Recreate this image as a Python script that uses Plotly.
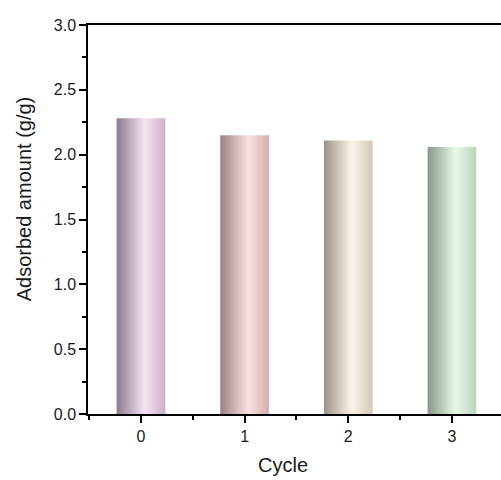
import plotly.graph_objects as go

cycles = [0, 1, 2, 3]
values = [2.28, 2.15, 2.11, 2.06]
dark_colors = ["#8c798c", "#9c8282", "#9a9386", "#869889"]
light_colors = ["#f2dff0", "#f7dede", "#f7f0e3", "#e5f4e3"]
edge_colors = ["#ccafc9", "#d3adae", "#d3c8b5", "#bcd3bb"]
bar_width = 0.47

fig = go.Figure()
for c, v, dk, lt, ed in zip(cycles, values, dark_colors, light_colors, edge_colors):
    x0, x1 = c - bar_width / 2, c + bar_width / 2
    fig.add_trace(go.Scatter(
        x=[x0, x0, x1, x1, x0],
        y=[0, v, v, 0, 0],
        mode="lines",
        fill="toself",
        line=dict(width=0),
        fillgradient=dict(type="horizontal",
                          colorscale=[[0, dk], [0.55, lt], [0.62, lt], [1, ed]]),
        showlegend=False,
        hoverinfo="skip",
        name=f"Cycle {c}",
    ))

font = "Arial, 'Liberation Sans', sans-serif"
fig.update_layout(
    width=501, height=480,
    margin=dict(l=88, r=0, t=25, b=66),
    plot_bgcolor="white", paper_bgcolor="white",
    font=dict(family=font, size=16, color="#1a1a1a"),
    xaxis=dict(range=[-0.511, 3.473], tickvals=cycles, ticktext=[str(c) for c in cycles],
               showline=True, linecolor="black", linewidth=1.5, mirror=True,
               ticks="outside", ticklen=7, tickwidth=1.5, tickcolor="black",
               minor=dict(dtick=0.5, tick0=0, ticks="outside", ticklen=4, tickwidth=1.5, tickcolor="black"),
               showgrid=False, zeroline=False, tickfont=dict(size=16)),
    yaxis=dict(range=[0, 3], dtick=0.5, tick0=0, tickformat=".1f",
               showline=True, linecolor="black", linewidth=1.5,
               ticks="outside", ticklen=7, tickwidth=1.5, tickcolor="black",
               minor=dict(dtick=0.25, ticks="outside", ticklen=4, tickwidth=1.5, tickcolor="black"),
               showgrid=False, zeroline=False, tickfont=dict(size=16)),
    annotations=[
        dict(text="Cycle", xref="paper", yref="paper", x=0.472, y=-0.131,
             showarrow=False, font=dict(size=20), xanchor="center", yanchor="middle"),
        dict(text="Adsorbed amount (g/g)", xref="paper", yref="paper", x=-0.153, y=0.554,
             showarrow=False, font=dict(size=20), textangle=-90,
             xanchor="center", yanchor="middle"),
    ],
)

fig.write_html("out.html")
